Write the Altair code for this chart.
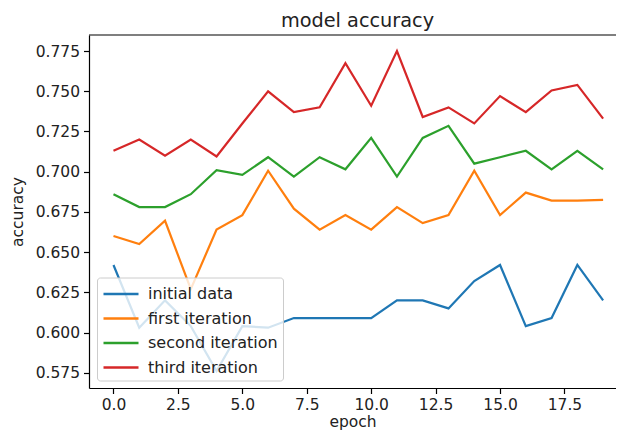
import altair as alt
import pandas as pd

epochs = list(range(20))
series_names = ["initial data", "first iteration", "second iteration", "third iteration"]
initial_data = [0.642, 0.603, 0.620, 0.604, 0.576, 0.604, 0.603, 0.609, 0.609, 0.609,
                0.609, 0.620, 0.620, 0.615, 0.632, 0.642, 0.604, 0.609, 0.642, 0.620]
first_iteration = [0.660, 0.655, 0.6695, 0.627, 0.664, 0.673, 0.7006, 0.677, 0.664, 0.673,
                   0.664, 0.678, 0.668, 0.673, 0.7006, 0.673, 0.687, 0.682, 0.682, 0.6825]
second_iteration = [0.686, 0.678, 0.678, 0.686, 0.701, 0.698, 0.709, 0.697, 0.709, 0.7015,
                    0.721, 0.697, 0.721, 0.7285, 0.705, 0.709, 0.713, 0.7015, 0.713, 0.7015]
third_iteration = [0.713, 0.720, 0.710, 0.720, 0.7095, 0.730, 0.750, 0.737, 0.740, 0.7675,
                   0.741, 0.775, 0.734, 0.740, 0.730, 0.747, 0.737, 0.7505, 0.754, 0.733]
colors = ["#1f77b4", "#ff7f0e", "#2ca02c", "#d62728"]
x_ticks = [0, 2.5, 5, 7.5, 10, 12.5, 15, 17.5]
y_ticks = [0.575, 0.6, 0.625, 0.65, 0.675, 0.7, 0.725, 0.75, 0.775]

rows = []
for name, vals in zip(series_names, [initial_data, first_iteration, second_iteration, third_iteration]):
    for e, v in zip(epochs, vals):
        rows.append({"epoch": e, "accuracy": v, "series": name})
df = pd.DataFrame(rows)

W, H = 527, 353
FONT = "DejaVu Sans"

lines = alt.Chart(df).mark_line(strokeWidth=2.2, clip=True).encode(
    x=alt.X("epoch:Q", scale=alt.Scale(domain=[-0.95, 19.5], nice=False, zero=False),
            axis=alt.Axis(values=x_ticks, format=".1f", title="epoch", grid=False,
                          titlePadding=1)),
    y=alt.Y("accuracy:Q", scale=alt.Scale(domain=[0.5655, 0.785], nice=False, zero=False),
            axis=alt.Axis(values=y_ticks, format=".3f", title="accuracy", grid=False,
                          titlePadding=10)),
    color=alt.Color("series:N",
                    scale=alt.Scale(domain=series_names, range=colors),
                    sort=series_names,
                    legend=alt.Legend(title=None, orient="none", legendX=8, legendY=242.5,
                                      fillColor="rgba(255,255,255,0.8)", strokeColor="#cccccc",
                                      cornerRadius=3, padding=5, rowPadding=4.5,
                                      labelFontSize=16, labelFont=FONT, labelColor="#222",
                                      symbolType="M-1.75,0H1.75", symbolSize=400,
                                      symbolOffset=7.5,
                                      symbolStrokeWidth=2.5, labelOffset=15.5)),
)

top_spine = alt.Chart(pd.DataFrame({"a": [0]})).mark_rule(color="black", strokeWidth=1.2).encode(
    x=alt.value(0), x2=alt.value(W + 10), y=alt.value(0)
)

chart = alt.layer(lines, top_spine).properties(
    width=W, height=H,
    background="white",
    title=alt.TitleParams("model accuracy", fontSize=19.3, font=FONT, fontWeight="normal",
                          color="#222", offset=3, dx=5),
    autosize=alt.AutoSizeParams(type="none"),
    padding={"left": 81, "top": 27, "right": 0, "bottom": 43},
).configure_view(stroke=None).configure_axis(
    labelFont=FONT, titleFont=FONT, labelFontSize=15.5, titleFontSize=15.5,
    labelColor="#222", titleColor="#222", titleFontWeight="normal",
    domainColor="black", domainWidth=1.2, tickColor="black", tickWidth=1.2,
    tickSize=5.5, labelPadding=4,
)

chart.save("out.html", embed_options={"renderer": "svg", "actions": False})
